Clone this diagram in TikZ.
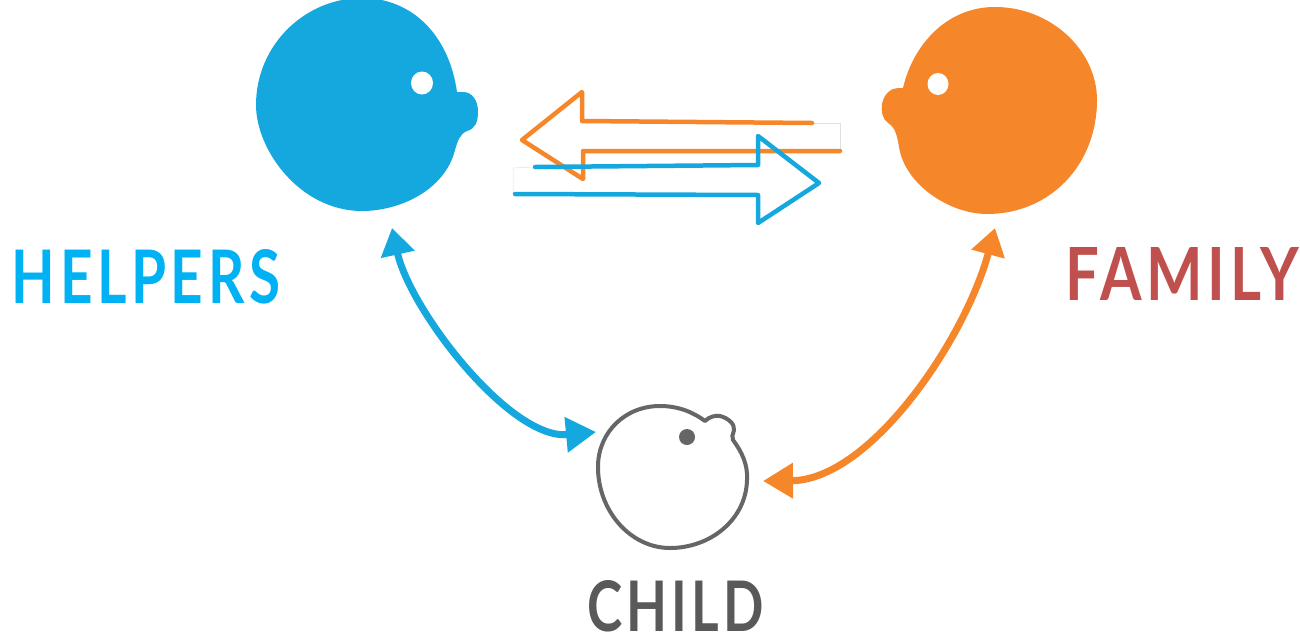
\documentclass[tikz,border=0pt]{standalone}
\usepackage{graphicx}
\usepackage{fontspec}
\usetikzlibrary{arrows.meta}
\newfontfamily\handfont[LetterSpace=8]{Lato}
\definecolor{helperblue}{HTML}{15A8DF}
\definecolor{helpertext}{HTML}{00B2F3}
\definecolor{familyorange}{HTML}{F6862A}
\definecolor{familyred}{HTML}{C0504D}
\definecolor{childgray}{HTML}{666666}
\definecolor{childtext}{HTML}{595959}
\tikzset{
  blockarrow/.style={line width=4.5pt,line join=round,line cap=round},
  ghostedge/.style={line width=0.5pt,black!12},
  linkline/.style={line width=7pt,{Triangle[length=27pt,width=33pt]}-{Triangle[length=30pt,width=34pt]}},
  label/.style={inner sep=0pt,outer sep=0pt,anchor=north west,font=\handfont\bfseries\fontsize{50}{50}\selectfont}
}
\begin{document}
\begin{tikzpicture}[x=1pt,y=-1pt]
\useasboundingbox (0,0) rectangle (1300,635);

% heads
\fill[helperblue] (457,92) .. controls (449,35) and (412,-2) .. (362,-2)
  .. controls (305,-2) and (256,45) .. (256,105)
  .. controls (256,150) and (300,211) .. (362,211)
  .. controls (400,211) and (445,190) .. (455,150)
  .. controls (458,140) and (460,134) .. (467,131)
  .. controls (475,129) and (478,122) .. (478,112)
  .. controls (478,100) and (472,92) .. (463,92) -- cycle;
\fill[white] (422,83) ellipse[x radius=11,y radius=11.5];

\fill[familyorange] (903,88) .. controls (913,45) and (946,8) .. (993,7)
  .. controls (1050,6) and (1097,50) .. (1097,100)
  .. controls (1097,165) and (1050,214) .. (987,214)
  .. controls (950,214) and (905,185) .. (899,147)
  .. controls (897,135) and (895,127) .. (888,123)
  .. controls (882,119) and (881,110) .. (882,104)
  .. controls (884,93) and (892,88) .. (898,88) -- cycle;
\fill[white] (938,84) ellipse[x radius=10.5,y radius=11];

\draw[childgray,line width=4pt,line join=round] (705,421)
  .. controls (709,417) and (715,415) .. (720,416)
  .. controls (728,418) and (735,424) .. (734,430)
  .. controls (733,435) and (731,437) .. (733,440)
  .. controls (742,452) and (748,465) .. (747,480)
  .. controls (746,520) and (710,548) .. (670,548)
  .. controls (630,548) and (597,510) .. (598,465)
  .. controls (599,432) and (625,406) .. (660,406)
  .. controls (678,406) and (693,412) .. (705,421) -- cycle;
\fill[childgray] (687,437) circle[radius=8];

% ends of the connectors
\coordinate (orangeTail) at (812,123);
\coordinate (orangeFoot) at (840,151);
\coordinate (blueTail) at (535,167);
\coordinate (blueFoot) at (515,194);
\coordinate (helpersPort) at (392,228);
\coordinate (childLeft) at (596,432);
\coordinate (familyPort) at (995,228);
\coordinate (childRight) at (763,481);

% faint edges of the block arrow tails
\draw[ghostedge] (orangeTail) -- (840,123) -- (orangeFoot);
\draw[ghostedge] (blueTail) -- (513,168) -- (513,193);

% block arrows
\draw[familyorange,blockarrow] (orangeTail) -- (582,121) -- (582,92) -- (522,140) -- (583,179) -- (583,151) -- (orangeFoot);
\draw[helperblue,blockarrow] (blueTail) -- (758,165) -- (758,136) -- (819,183) -- (758,223) -- (758,195) -- (blueFoot);

% curved double arrows
\draw[helperblue,linkline] (helpersPort) .. controls (410,310) and (510,440) .. (childLeft);
\draw[familyorange,linkline] (familyPort) .. controls (965,340) and (870,480) .. (childRight);

% labels
\node[label,text=helpertext] (helpers) at (12,249) {\resizebox{268pt}{54pt}{HELPERS}};
\node[label,text=familyred] (family) at (1065,247) {\resizebox{234pt}{53pt}{FAMILY}};
\node[label,text=childtext] (child) at (587,580) {\resizebox{177pt}{51pt}{CHILD}};
\end{tikzpicture}
\end{document}
